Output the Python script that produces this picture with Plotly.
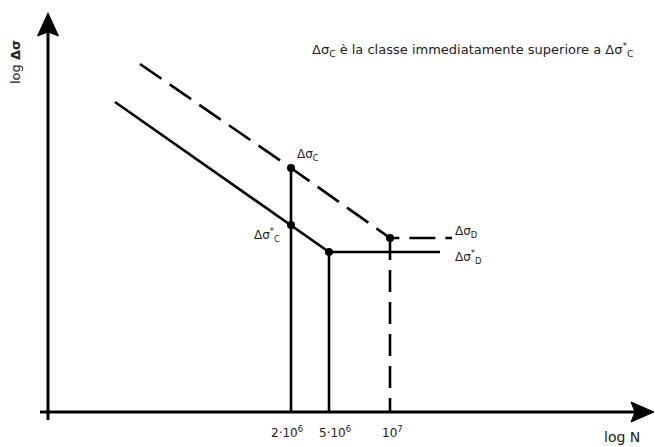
import plotly.graph_objects as go

# ---- data (schematic units) ----
solid_x = [0.67, 2.43, 2.81, 3.92]
solid_y = [3.10, 1.87, 1.60, 1.60]
dashed_x = [0.92, 2.43, 3.42, 4.04]
dashed_y = [3.48, 2.44, 1.74, 1.74]

vline_solid_x = [2.43, 2.81]
vline_solid_top = [2.44, 1.60]
vline_dashed_x = [3.42]
vline_dashed_top = [1.74]

dot_x = [2.43, 2.43, 2.81, 3.42]
dot_y = [2.44, 1.87, 1.60, 1.74]

tick_pos = [2.39, 2.87, 3.44]
tick_labels = ["2·10<sup>6</sup>", "5·10<sup>6</sup>", "10<sup>7</sup>"]

FONT = "DejaVu Sans, Liberation Sans, Arial, sans-serif"
BLACK = "#000000"
TXT = "#222222"
LW = 2.6

fig = go.Figure()

fig.add_trace(go.Scatter(x=solid_x, y=solid_y, mode="lines",
                         line=dict(color=BLACK, width=LW), hoverinfo="skip"))
fig.add_trace(go.Scatter(x=dashed_x, y=dashed_y, mode="lines",
                         line=dict(color=BLACK, width=LW, dash="26px,10px"), hoverinfo="skip"))
for vx, vt in zip(vline_solid_x, vline_solid_top):
    fig.add_trace(go.Scatter(x=[vx, vx], y=[0, vt], mode="lines",
                             line=dict(color=BLACK, width=LW), hoverinfo="skip"))
for vx, vt in zip(vline_dashed_x, vline_dashed_top):
    fig.add_trace(go.Scatter(x=[vx, vx], y=[vt, 0], mode="lines",
                             line=dict(color=BLACK, width=LW, dash="22px,10px"), hoverinfo="skip"))
fig.add_trace(go.Scatter(x=dot_x, y=dot_y, mode="markers",
                         marker=dict(color=BLACK, size=8), hoverinfo="skip"))

shapes = [
    dict(type="line", xref="x", yref="y", x0=-0.08, y0=0, x1=5.9, y1=0,
         line=dict(color=BLACK, width=3)),
    dict(type="line", xref="x", yref="y", x0=0, y0=-0.08, x1=0, y1=3.85,
         line=dict(color=BLACK, width=3)),
    dict(type="path", xref="x", yref="y",
         path="M 0 3.99 L 0.105 3.76 L 0 3.80 L -0.105 3.76 Z",
         fillcolor=BLACK, line=dict(color=BLACK, width=1)),
    dict(type="path", xref="x", yref="y",
         path="M 6.06 0 L 5.83 0.10 L 5.87 0 L 5.83 -0.10 Z",
         fillcolor=BLACK, line=dict(color=BLACK, width=1)),
]

annotations = []
def txt(x, y, s, xanchor="left", size=12, angle=0):
    annotations.append(dict(x=x, y=y, xref="x", yref="y", text=s, showarrow=False,
                            xanchor=xanchor, yanchor="middle", textangle=angle,
                            font=dict(family=FONT, size=size, color=TXT)))

txt(2.47, 2.57, "Δσ<sub>C</sub>")
txt(2.34, 1.77, "Δσ<sup>*</sup><sub>C</sub>", xanchor="right")
txt(4.05, 1.80, "Δσ<sub>D</sub>")
txt(4.05, 1.55, "Δσ<sup>*</sup><sub>D</sub>")
txt(2.62, 3.62, "Δσ<sub>C</sub> è la classe immediatamente superiore a Δσ<sup>*</sup><sub>C</sub>", size=13)
for p, l in zip(tick_pos, tick_labels):
    txt(p, -0.20, l, xanchor="center")
txt(5.74, -0.25, "log N", xanchor="center", size=14)
txt(-0.33, 3.50, "log <b>Δσ</b>", xanchor="center", size=13, angle=-90)

fig.update_layout(
    width=655, height=447,
    margin=dict(l=0, r=0, t=0, b=0),
    paper_bgcolor="white", plot_bgcolor="white",
    showlegend=False,
    xaxis=dict(range=[-0.48, 6.07], visible=False, fixedrange=True),
    yaxis=dict(range=[-0.35, 4.12], visible=False, fixedrange=True),
    shapes=shapes, annotations=annotations,
)

fig.write_html("out.html", config={"displayModeBar": False},
               post_script="document.body.style.margin='0';document.body.style.overflow='hidden';")
